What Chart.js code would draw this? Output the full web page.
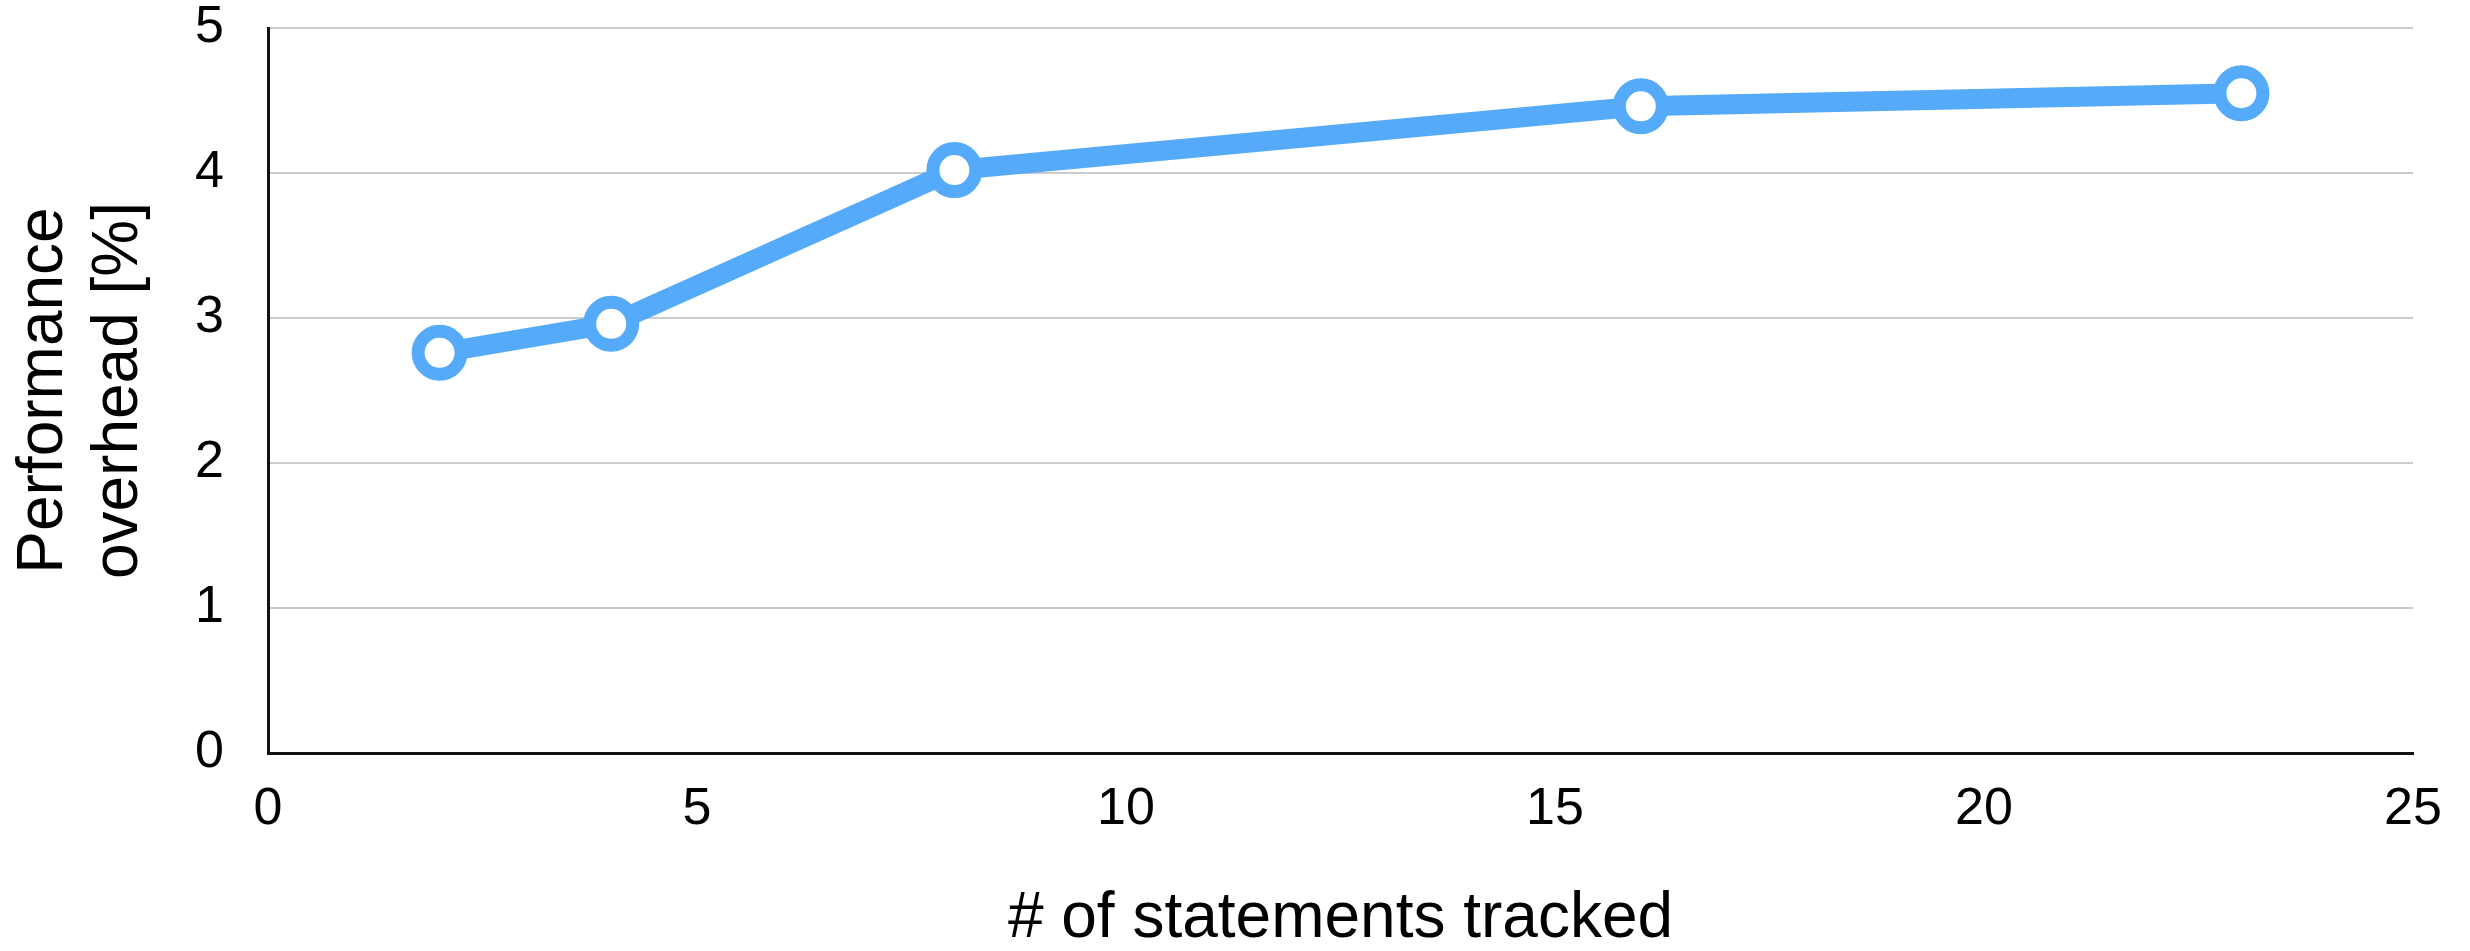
<!DOCTYPE html>
<html>
<head>
<meta charset="utf-8">
<script src="https://cdn.jsdelivr.net/npm/chart.js@4.4.1/dist/chart.umd.min.js"></script>
<style>
  html, body { margin: 0; padding: 0; background: #fff; }
  #wrap { width: 2470px; height: 951px; position: relative; }
</style>
</head>
<body>
<div id="wrap"><canvas id="overhead-chart"></canvas></div>
<script>
// statements tracked vs overhead
const statements = [2, 4, 8, 16, 23];
const overhead = [2.76, 2.96, 4.02, 4.46, 4.55];
const xTicks = [0, 5, 10, 15, 20, 25];
const yTicks = [0, 1, 2, 3, 4, 5];

const blue = '#55aaf9';
const fam = '"Liberation Sans", Helvetica, Arial, sans-serif';

const points = statements.map((s, i) => ({ x: s, y: overhead[i] }));

new Chart(document.getElementById('overhead-chart'), {
  type: 'line',
  data: {
    datasets: [{
      data: points,
      borderColor: blue,
      borderWidth: 20,
      tension: 0,
      fill: false,
      clip: false,
      pointRadius: 21.5,
      pointBorderWidth: 13,
      pointBackgroundColor: '#fff',
      pointBorderColor: blue
    }]
  },
  options: {
    responsive: true,
    maintainAspectRatio: false,
    animation: false,
    layout: { autoPadding: false, padding: { top: 28, right: 57, left: 0, bottom: 0 } },
    plugins: { legend: { display: false }, tooltip: { enabled: false } },
    scales: {
      x: {
        type: 'linear',
        min: xTicks[0],
        max: xTicks[xTicks.length - 1],
        afterBuildTicks: (s) => { s.ticks = xTicks.map(v => ({ value: v })); },
        afterFit: (s) => { s.height = 198; s.paddingLeft = 0; s.paddingRight = 0; },
        grid: { display: false, drawTicks: false },
        border: { display: true, color: '#111', width: 3 },
        ticks: { color: '#000', padding: 31, maxRotation: 0, font: { family: fam, size: 52, lineHeight: 1 } },
        title: {
          display: true,
          text: '# of statements tracked',
          color: '#000',
          padding: 0,
          font: { family: fam, size: 64, lineHeight: 1 }
        }
      },
      y: {
        min: yTicks[0],
        max: yTicks[yTicks.length - 1],
        afterBuildTicks: (s) => { s.ticks = yTicks.map(v => ({ value: v })); },
        afterFit: (s) => { s.width = 268; s.paddingTop = 0; s.paddingBottom = 0; },
        grid: { color: '#cbcbcb', lineWidth: 2, drawTicks: false },
        border: { display: true, color: '#111', width: 3 },
        ticks: { color: '#000', padding: 44, font: { family: fam, size: 52, lineHeight: 1 } },
        title: {
          display: true,
          text: ['Performance', 'overhead [%]'],
          color: '#000',
          padding: { top: 7, bottom: 0 },
          font: { family: fam, size: 64, lineHeight: 1.17 }
        }
      }
    }
  }
});
</script>
</body>
</html>
